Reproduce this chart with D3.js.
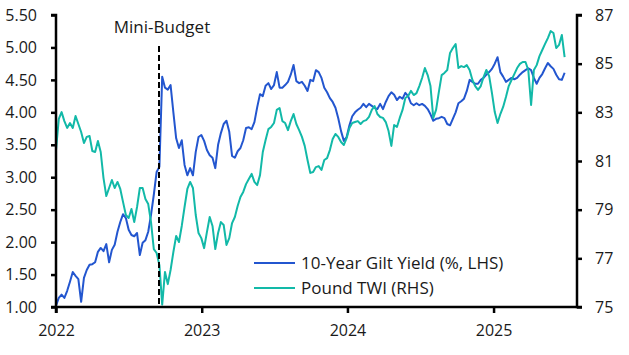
<!DOCTYPE html>
<html>
<head>
<meta charset="utf-8">
<script src="https://cdn.jsdelivr.net/npm/d3@7"></script>
<style>
  html, body { margin: 0; padding: 0; background: #fff; }
  svg { display: block; font-family: "Open Sans", "Noto Sans", sans-serif; }
</style>
</head>
<body>
<svg id="chart" width="629" height="355"></svg>
<script>
// ---- Data (weekly observations starting 2022-01-01) ----
const startDate = "2022-01-01";
const giltYield = [
  1.02,1.14,1.19,1.14,1.25,1.39,1.54,1.48,1.43,1.08,
  1.45,1.57,1.65,1.66,1.69,1.85,1.91,1.86,1.97,1.69,
  1.88,1.96,2.16,2.31,2.43,2.37,2.19,2.11,2.09,2.14,
  1.80,1.99,2.03,2.16,2.42,2.73,3.08,3.16,4.55,4.38,
  4.35,4.42,4.00,3.60,3.45,3.57,3.19,3.03,3.14,3.03,
  3.39,3.62,3.65,3.56,3.42,3.34,3.30,3.14,3.50,3.68,
  3.82,3.87,3.70,3.33,3.30,3.40,3.45,3.57,3.76,3.77,
  3.74,3.85,4.08,4.28,4.25,4.41,4.45,4.36,4.42,4.62,
  4.38,4.38,4.42,4.47,4.58,4.73,4.48,4.45,4.47,4.41,
  4.33,4.50,4.48,4.65,4.62,4.53,4.38,4.31,4.22,4.16,
  4.07,3.91,3.71,3.56,3.62,3.80,3.94,4.00,4.04,4.07,
  4.13,4.08,4.13,4.10,4.07,4.05,4.13,4.05,4.16,4.25,
  4.31,4.27,4.19,4.24,4.21,4.30,4.25,4.14,4.11,4.14,
  4.11,4.13,4.10,4.05,3.97,3.87,3.90,3.91,3.93,3.91,
  3.82,3.80,3.90,4.00,4.14,4.17,4.21,4.33,4.50,4.47,
  4.44,4.44,4.50,4.53,4.58,4.62,4.67,4.75,4.85,4.62,
  4.55,4.47,4.50,4.53,4.51,4.53,4.58,4.62,4.65,4.68,
  4.65,4.53,4.44,4.53,4.59,4.68,4.76,4.71,4.67,4.58,
  4.51,4.50,4.61
];
const poundTWI = [
  81.45,82.73,83.01,82.64,82.36,82.56,82.36,82.85,82.52,82.19,
  81.74,81.99,82.03,81.41,81.37,81.82,81.37,80.30,79.56,79.89,
  80.22,79.89,80.14,79.85,79.31,78.78,78.66,79.03,78.49,79.11,
  79.89,79.89,79.44,79.23,78.49,77.38,77.22,76.72,75.10,76.44,
  75.94,76.52,77.26,77.92,77.67,78.33,79.11,79.85,80.14,79.89,
  78.78,78.04,77.83,77.42,78.08,78.70,78.33,77.38,78.04,78.49,
  78.37,77.55,77.83,78.45,78.70,79.15,79.52,79.73,80.05,80.26,
  80.47,80.14,80.01,80.42,81.37,81.86,82.31,82.40,82.56,83.10,
  83.18,82.64,82.56,82.27,82.64,82.93,82.52,82.27,81.99,81.62,
  81.04,80.51,80.55,80.75,80.79,80.63,81.04,81.12,81.45,81.90,
  82.11,81.99,81.78,81.66,81.94,82.36,82.56,82.60,82.64,82.52,
  82.64,82.68,82.81,83.10,83.26,82.93,82.81,82.77,82.60,82.23,
  81.62,82.48,82.40,82.77,83.10,83.59,83.67,83.88,83.71,83.79,
  84.08,84.41,84.82,84.53,84.08,82.77,83.10,83.84,84.53,84.62,
  84.74,85.44,85.64,85.81,84.82,84.90,84.86,84.94,84.74,84.33,
  84.08,83.92,84.08,84.45,84.74,84.49,83.79,83.01,82.56,82.93,
  83.22,83.63,84.08,84.33,84.57,84.82,84.99,85.07,85.07,84.74,
  83.30,84.74,84.94,85.31,85.56,85.81,86.05,86.34,86.26,85.64,
  85.77,86.18,85.27
];
const leftTicks = [1.00,1.50,2.00,2.50,3.00,3.50,4.00,4.50,5.00,5.50];
const rightTicks = [75,77,79,81,83,85,87];
const yearTicks = ["2022-01-01","2023-01-01","2024-01-01","2025-01-01"];
const xDomain = ["2022-01-01","2025-07-29"];
const eventDate = "2022-09-16";
const eventLabel = "Mini-Budget";
const seriesNames = ["10-Year Gilt Yield (%, LHS)", "Pound TWI (RHS)"];
const colors = ["#2356cf", "#12b9a8"];

// ---- Build ----
const parse = d3.utcParse("%Y-%m-%d");
const t0 = parse(startDate);
const dates = giltYield.map((_, i) => d3.utcDay.offset(t0, i * 7));

const svg = d3.select("#chart");
const L = 56, R = 577, T = 15, B = 307;

const x = d3.scaleUtc().domain(xDomain.map(parse)).range([L, R]);
const yL = d3.scaleLinear().domain([1.0, 5.5]).range([B, T]);
const yR = d3.scaleLinear().domain([75, 87]).range([B, T]);

const tickFont = "16px";
const labelFont = "17px";
const textColor = "#1a1a1a";

// Lines
const lineL = d3.line().x((d, i) => x(dates[i])).y(d => yL(d));
const lineR = d3.line().x((d, i) => x(dates[i])).y(d => yR(d));

svg.append("path").datum(giltYield)
  .attr("d", lineL).attr("fill", "none")
  .attr("stroke", colors[0]).attr("stroke-width", 2).attr("stroke-linejoin", "round");
svg.append("path").datum(poundTWI)
  .attr("d", lineR).attr("fill", "none")
  .attr("stroke", colors[1]).attr("stroke-width", 2).attr("stroke-linejoin", "round");

// Event line
const ex = x(parse(eventDate));
svg.append("line")
  .attr("x1", ex).attr("x2", ex).attr("y1", 46).attr("y2", B)
  .attr("stroke", "#000").attr("stroke-width", 2).attr("stroke-dasharray", "6,3");
svg.append("text").text(eventLabel)
  .attr("x", ex + 3).attr("y", 33).attr("text-anchor", "middle")
  .attr("font-size", labelFont).attr("fill", textColor);

// Axes
const axL = d3.axisLeft(yL).tickValues(leftTicks).tickFormat(d3.format(".2f")).tickSize(5).tickPadding(14);
const axR = d3.axisRight(yR).tickValues(rightTicks).tickFormat(d3.format("d")).tickSize(5).tickPadding(13);
const axB = d3.axisBottom(x).tickValues(yearTicks.map(parse)).tickFormat(d3.utcFormat("%Y")).tickSize(6).tickPadding(12);

function styleAxis(g) {
  g.select(".domain").attr("stroke", "#000").attr("stroke-width", 2.5);
  g.selectAll(".tick line").attr("stroke", "#000").attr("stroke-width", 2.5);
  g.selectAll(".tick text").attr("font-size", tickFont).attr("fill", textColor)
    .attr("font-family", "'Open Sans', 'Noto Sans', sans-serif");
}
svg.append("g").attr("transform", `translate(${L},0)`).call(axL).call(styleAxis)
  .select(".domain").attr("d", `M-5,${T}H0V${B}H-5`);
svg.append("g").attr("transform", `translate(${R},0)`).call(axR).call(styleAxis)
  .select(".domain").attr("d", `M5,${T}H0V${B}H5`);
svg.append("g").attr("transform", `translate(0,${B})`).call(axB).call(styleAxis)
  .select(".domain").attr("d", `M${L},6V0H${R}`);

// Legend
const legY = [263, 288];
seriesNames.forEach((name, i) => {
  svg.append("line").attr("x1", 254).attr("x2", 295)
    .attr("y1", legY[i]).attr("y2", legY[i])
    .attr("stroke", colors[i]).attr("stroke-width", 2);
  svg.append("text").text(name).attr("x", 301).attr("y", legY[i]).attr("dy", "0.35em")
    .attr("font-size", labelFont).attr("fill", textColor);
});
</script>
</body>
</html>
